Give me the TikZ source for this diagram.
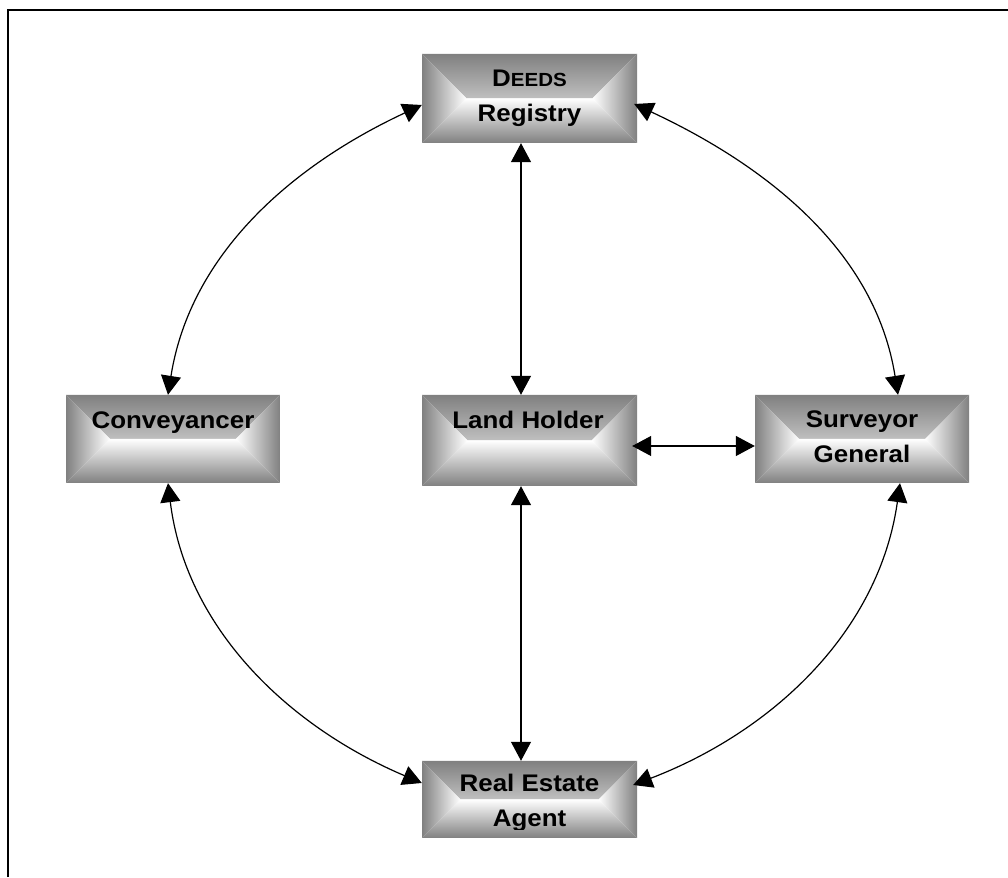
\documentclass[tikz,border=0pt]{standalone}
\usepackage{fontspec}
\setmainfont{Liberation Sans}[FakeStretch=1.08]
\usetikzlibrary{arrows.meta,calc}
\definecolor{edgegray}{RGB}{128,128,128}
\colorlet{midgray}{edgegray!65!white}
\tikzset{
  gbox/.style={rectangle, inner sep=0pt, draw=none, path picture={
    \shade[top color=edgegray, middle color=midgray, bottom color=white] let \p1=(path picture bounding box.south west), \p2=(path picture bounding box.north east), \n1={(\y2-\y1)/2} in
      (\x1,\y2) -- (\x2,\y2) -- ({\x2-\n1},{\y2-\n1}) -- ({\x1+\n1},{\y2-\n1}) -- cycle;
    \shade[top color=white, middle color=midgray, bottom color=edgegray] let \p1=(path picture bounding box.south west), \p2=(path picture bounding box.north east), \n1={(\y2-\y1)/2} in
      (\x1,\y1) -- (\x2,\y1) -- ({\x2-\n1},{\y1+\n1}) -- ({\x1+\n1},{\y1+\n1}) -- cycle;
    \shade[left color=edgegray, middle color=midgray, right color=white] let \p1=(path picture bounding box.south west), \p2=(path picture bounding box.north east), \n1={(\y2-\y1)/2} in
      (\x1,\y1) -- ({\x1+\n1},{\y1+\n1}) -- (\x1,\y2) -- cycle;
    \shade[left color=white, middle color=midgray, right color=edgegray] let \p1=(path picture bounding box.south west), \p2=(path picture bounding box.north east), \n1={(\y2-\y1)/2} in
      (\x2,\y1) -- ({\x2-\n1},{\y1+\n1}) -- (\x2,\y2) -- cycle;
  }},
  lbl/.style={inner sep=0pt, align=center, anchor=base, font=\bfseries\fontsize{24}{35}\selectfont},
  conn/.style={line width=1.2pt, {Triangle[length=19pt,width=20pt]}-{Triangle[length=19pt,width=20pt]}},
}
\begin{document}
\begin{tikzpicture}[x=1pt,y=1pt]
\useasboundingbox (0,0) rectangle (1008,877);
\draw[line width=2pt] (8,0) -- (8,867) -- (1008,867);

% boxes
\node[gbox, minimum width=215pt, minimum height=89pt] (deeds) at (529.5,778.5) {};
\node[gbox, minimum width=215pt, minimum height=91pt] (land) at (529.5,436.5) {};
\node[gbox, minimum width=214pt, minimum height=88pt] (conv) at (173,438) {};
\node[gbox, minimum width=214pt, minimum height=88pt] (surv) at (862,438) {};
\node[gbox, minimum width=215pt, minimum height=77pt] (rea) at (529.5,77.5) {};

% connectors
\draw[conn] ([xshift=-8.5pt]deeds.south) -- ([xshift=-8.5pt]land.north);
\draw[conn] ([xshift=-8.5pt]land.south) -- ([xshift=-8.5pt]rea.north);
\draw[conn] ([xshift=-5pt,yshift=-5.5pt]land.east) -- ([yshift=-7pt]surv.west);
\draw[conn] ([yshift=-6.5pt]deeds.west) to[out=205,in=81,looseness=0.95] ([xshift=-5pt]conv.north);
\draw[conn] ([xshift=-3pt,yshift=-5.5pt]deeds.east) to[out=-25,in=99,looseness=0.95] ([xshift=36pt]surv.north);
\draw[conn] ([xshift=-5pt]conv.south) to[out=-83,in=157,looseness=0.95] ([yshift=16.5pt]rea.west);
\draw[conn] ([xshift=38pt]surv.south) to[out=-98,in=21,looseness=0.95] ([xshift=-4pt,yshift=14.5pt]rea.east);

% texts
\node[lbl] (deeds-t) at (529.5,755) {D{\fontsize{19}{35}\selectfont EEDS}\\Registry};
\node[lbl] (land-t) at (528,448) {Land Holder};
\node[lbl] (conv-t) at (173,448) {Conveyancer};
\node[lbl] (surv-t) at (862,414) {Surveyor\\General};
\begin{scope}
\clip (422,47.5) rectangle (637,116);
\node[lbl] (rea-t) at (529.5,50) {Real Estate\\Agent};
\end{scope}
\end{tikzpicture}
\end{document}
